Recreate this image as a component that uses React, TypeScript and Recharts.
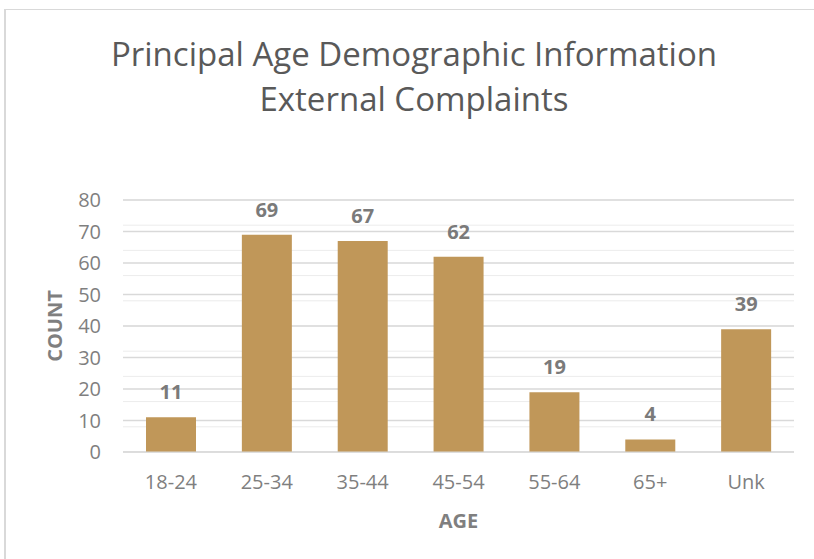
import React from 'react';
import { BarChart, Bar, XAxis, YAxis, CartesianGrid, LabelList, Label } from 'recharts';

const categories = ['18-24', '25-34', '35-44', '45-54', '55-64', '65+', 'Unk'];
const counts = [11, 69, 67, 62, 19, 4, 39];
const yTicks = [0, 10, 20, 30, 40, 50, 60, 70, 80];
const minorTicks = [0, 2, 4, 6, 8, 10, 12, 14, 16, 18, 20, 22, 24, 26, 28, 30, 32, 34, 36, 38, 40, 42, 44, 46, 48, 50, 52, 54, 56, 58, 60, 62, 64, 66, 68, 70, 72, 74, 76, 78, 80];
const titleLines = ['Principal Age Demographic Information', 'External Complaints'];

const data = categories.map((c, i) => ({ age: c, count: counts[i] }));

const FONT = '"Open Sans", sans-serif';

export default function App() {
  return (
    <div style={{ position: 'fixed', left: 0, top: 0, width: 814, height: 559, background: '#fff', overflow: 'hidden', fontFamily: FONT }}>
      <div style={{ position: 'absolute', left: 4, top: 9, width: 810, height: 1, background: '#d9d9d9' }} />
      <div style={{ position: 'absolute', left: 4, top: 9, width: 2, height: 550, background: '#d9d9d9' }} />
      <svg width={814} height={130} style={{ position: 'absolute', left: 0, top: 0 }}>
        <text x={414} y={66} textAnchor="middle" fontFamily={FONT} fontSize={33} fill="#595959">{titleLines[0]}</text>
        <text x={414} y={111} textAnchor="middle" fontFamily={FONT} fontSize={33} fill="#595959">{titleLines[1]}</text>
      </svg>
      <div style={{ position: 'absolute', left: 0, top: 0 }}>
        <BarChart width={814} height={559} data={data} margin={{ top: 200, right: 20, bottom: 77, left: 63 }} barSize={50}>
          <CartesianGrid vertical={false} horizontalValues={minorTicks} stroke="#ececec" />
          <CartesianGrid vertical={false} horizontalValues={yTicks} stroke="#d9d9d9" strokeWidth={1.3} />
          <XAxis dataKey="age" height={30} tickLine={false} tickSize={0} tickMargin={23} axisLine={{ stroke: '#d9d9d9' }} tick={{ fill: '#7f7f7f', fontSize: 20, fontFamily: FONT }}>
            <Label value="AGE" position="insideBottom" offset={-46} fill="#7f7f7f" fontSize={20} fontWeight="bold" fontFamily={FONT} />
          </XAxis>
          <YAxis width={60} domain={[0, 80]} ticks={yTicks} tickLine={false} tickSize={0} tickMargin={22} axisLine={false} tick={{ fill: '#7f7f7f', fontSize: 20, fontFamily: FONT }}>
            <Label value="COUNT" angle={-90} position="insideLeft" offset={-8} fill="#7f7f7f" fontSize={20} fontWeight="bold" fontFamily={FONT} style={{ textAnchor: 'middle' }} />
          </YAxis>
          <Bar dataKey="count" fill="#C09759" isAnimationActive={false}>
            <LabelList dataKey="count" position="top" offset={18} fill="#7a7a7a" fontSize={20} fontWeight="bold" fontFamily={FONT} />
          </Bar>
        </BarChart>
      </div>
    </div>
  );
}
